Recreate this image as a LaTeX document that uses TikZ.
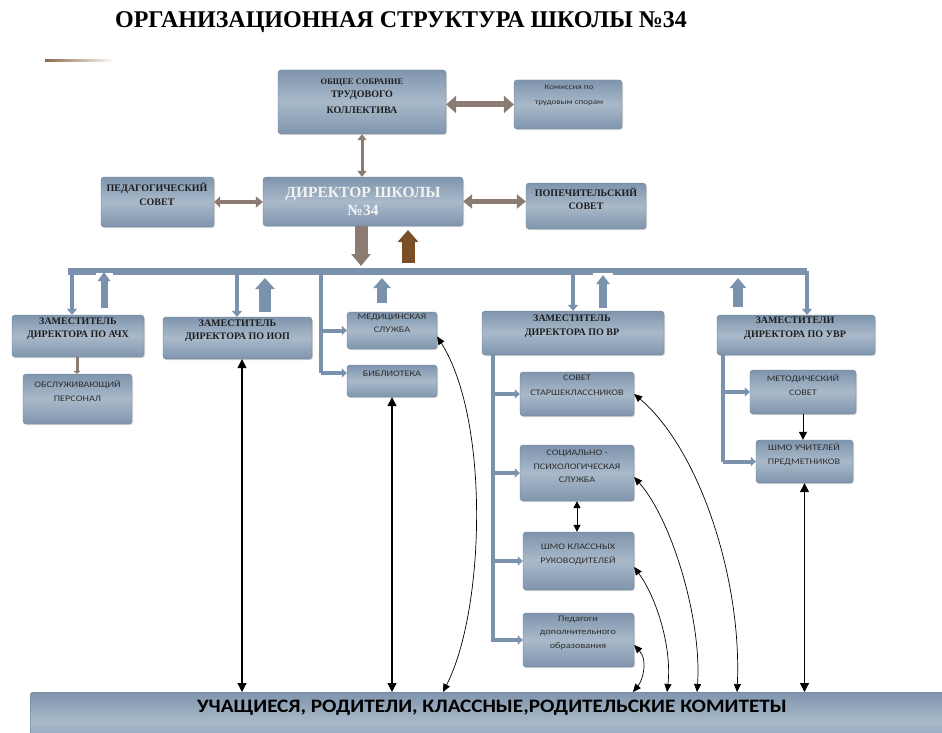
\documentclass[tikz,border=0pt]{standalone}
\usepackage{fontspec}
\setmainfont{Liberation Serif}
\newfontfamily\smf[FakeStretch=1.2]{Carlito}
\newfontfamily\btf[FakeStretch=1.12]{Carlito}
\usetikzlibrary{arrows.meta,shadows,calc}
\definecolor{bxD}{HTML}{7F95AD}
\definecolor{bxL}{HTML}{A9B9CA}
\definecolor{conn}{HTML}{7A92AD}
\definecolor{taupe}{HTML}{8C7B72}
\definecolor{brn}{HTML}{7A4E27}
\definecolor{txt}{HTML}{1E1E1E}
\definecolor{stx}{HTML}{2E2E2E}
\begin{document}
\begin{tikzpicture}[x=1pt,y=-1pt,
  bx/.style={rectangle, rounded corners=3pt, top color=bxD, bottom color=bxD, middle color=bxL,
     draw=bxD!85!black, line width=0.3pt, inner sep=0pt,
     drop shadow={shadow xshift=1pt, shadow yshift=-1.2pt, opacity=0.25, fill=black!60}},
  hd/.style={font=\fontsize{10}{13}\selectfont\bfseries, text=txt, align=center, inner sep=0pt},
  sm/.style={font=\smf\fontsize{8.5}{13.5}\selectfont, text=stx, align=center, inner sep=0pt},
  tw/.style={draw=taupe, line width=#1},
  bar/.style={draw=conn, line width=7pt},
  drop/.style={draw=conn, line width=4.5pt, -{Triangle[width=10pt,length=6pt]}},
  spine/.style={draw=conn, line width=4pt},
  branch/.style={draw=conn, line width=4pt, -{Triangle[width=9pt,length=5pt]}},
  blk/.style={draw=black, line width=1.2pt, {Triangle[width=9pt,length=9pt]}-{Triangle[width=9pt,length=9pt]}},
  crv/.style={draw=black, line width=0.7pt, {Triangle[width=7pt,length=8pt]}-{Triangle[width=7pt,length=8pt]}}
]
\useasboundingbox (0,0) rectangle (942,733);
\fill[white] (0,0) rectangle (942,733);

% title
\node[font=\fontsize{24}{28}\selectfont\bfseries, text=black, inner sep=0pt] (title) at (401,22) {ОРГАНИЗАЦИОННАЯ СТРУКТУРА ШКОЛЫ №34};
\shade[left color=brn!85, right color=white] (45,59.5) rectangle (115,62);

% boxes
\node[bx, minimum width=168pt, minimum height=64pt] (obs) at (362,102) {};
\node[bx, minimum width=108pt, minimum height=49pt] (kom) at (568,104.5) {};
\node[bx, minimum width=113pt, minimum height=50pt] (ped) at (157.5,202) {};
\node[bx, minimum width=200pt, minimum height=49pt] (dir) at (363,201.5) {};
\node[bx, minimum width=120pt, minimum height=46pt] (pop) at (586,206) {};
\node[bx, minimum width=132pt, minimum height=42pt] (ach) at (78,336) {};
\node[bx, minimum width=109pt, minimum height=50pt] (obsl) at (77.5,399) {};
\node[bx, minimum width=149pt, minimum height=42pt] (iop) at (237.5,338) {};
\node[bx, minimum width=90pt, minimum height=37pt] (med) at (392,330.5) {};
\node[bx, minimum width=90pt, minimum height=32pt] (bib) at (392,381) {};
\node[bx, minimum width=182pt, minimum height=44pt] (vr) at (573,333) {};
\node[bx, minimum width=158pt, minimum height=40pt] (uvr) at (796,335) {};
\node[bx, minimum width=114pt, minimum height=44pt] (sov) at (577,394) {};
\node[bx, minimum width=114pt, minimum height=56pt] (soc) at (577,473) {};
\node[bx, minimum width=111pt, minimum height=58pt] (shk) at (578.5,561) {};
\node[bx, minimum width=111pt, minimum height=54pt] (ped2) at (578.5,640) {};
\node[bx, minimum width=106pt, minimum height=44pt] (met) at (803,392) {};
\node[bx, minimum width=97pt, minimum height=43pt] (shu) at (804.5,461.5) {};
\node[bx, minimum width=930pt, minimum height=60pt, anchor=north west] (uch) at (30,692) {};

% texts
\node[hd] (obs-t) at (362,96) {{\fontsize{8.5}{13}\selectfont ОБЩЕЕ СОБРАНИЕ}\\ТРУДОВОГО\\[3pt]КОЛЛЕКТИВА};
\node[sm, font=\smf\fontsize{7.5}{15}\selectfont] (kom-t) at (569,95.5) {Комиссия по\\трудовым спорам};
\node[hd, font=\fontsize{10}{14}\selectfont\bfseries] (ped-t) at (157,194) {ПЕДАГОГИЧЕСКИЙ\\СОВЕТ};
\node[hd, font=\fontsize{15.5}{18}\selectfont\bfseries, text=white!95!black] (dir-t) at (363,201) {ДИРЕКТОР ШКОЛЫ\\№34};
\node[hd] (pop-t) at (586,198.5) {ПОПЕЧИТЕЛЬСКИЙ\\СОВЕТ};
\node[hd] (ach-t) at (78,328.5) {ЗАМЕСТИТЕЛЬ\\ДИРЕКТОРА ПО АЧХ};
\node[hd] (iop-t) at (237.5,330.5) {ЗАМЕСТИТЕЛЬ\\ДИРЕКТОРА ПО ИОП};
\node[sm] (med-t) at (392,323.5) {МЕДИЦИНСКАЯ\\СЛУЖБА};
\node[sm] (bib-t) at (392,374) {БИБЛИОТЕКА};
\node[sm] (obsl-t) at (77.5,391) {ОБСЛУЖИВАЮЩИЙ\\ПЕРСОНАЛ};
\node[hd, font=\fontsize{10}{14}\selectfont\bfseries] (vr-t) at (572,326) {ЗАМЕСТИТЕЛЬ\\ДИРЕКТОРА ПО ВР};
\node[hd, font=\fontsize{10}{14}\selectfont\bfseries] (uvr-t) at (795,328) {ЗАМЕСТИТЕЛИ\\ДИРЕКТОРА ПО УВР};
\node[sm, font=\smf\fontsize{8.5}{15}\selectfont] (sov-t) at (577,385.5) {СОВЕТ\\СТАРШЕКЛАССНИКОВ};
\node[sm] (soc-t) at (577,466.5) {СОЦИАЛЬНО -\\ПСИХОЛОГИЧЕСКАЯ\\СЛУЖБА};
\node[sm] (met-t) at (803,385) {МЕТОДИЧЕСКИЙ\\СОВЕТ};
\node[sm] (shu-t) at (804,454.5) {ШМО УЧИТЕЛЕЙ\\ПРЕДМЕТНИКОВ};
\node[sm] (shk-t) at (578,554.5) {ШМО КЛАССНЫХ\\РУКОВОДИТЕЛЕЙ};
\node[sm, font=\smf\fontsize{8.5}{13.5}\selectfont] (ped2-t) at (578,632.5) {Педагоги\\дополнительного\\образования};
\node[font=\btf\bfseries\fontsize{19}{22}\selectfont, text=black, inner sep=0pt] (uch-t) at (492,708) {УЧАЩИЕСЯ, РОДИТЕЛИ, КЛАССНЫЕ,РОДИТЕЛЬСКИЕ КОМИТЕТЫ};

% taupe connectors at top
\draw[tw=6pt, {Triangle[width=17pt,length=10pt]}-{Triangle[width=17pt,length=10pt]}] (obs.east |- kom.west) -- (kom.west);
\draw[tw=3pt, {Triangle[width=9pt,length=6pt]}-{Triangle[width=9pt,length=6pt]}] (obs.south) -- (obs.south |- dir.north);
\draw[tw=4pt, {Triangle[width=11pt,length=6pt]}-{Triangle[width=11pt,length=7pt]}] (ped.east) -- (ped.east -| dir.west);
\draw[tw=5pt, {Triangle[width=14pt,length=9pt]}-{Triangle[width=14pt,length=9pt]}] (dir.east) -- (dir.east -| pop.west);

% main bar
\coordinate (bL) at (68,271);
\coordinate (bR) at (807,271);
\coordinate (d1) at (72,271);
\coordinate (d2) at (237,271);
\coordinate (d3) at (321,271);
\coordinate (d4) at (573,271);
\draw[bar] (bL) -- (bR);
\draw[tw=13pt, -{Triangle[width=19pt,length=12pt]}] (dir.south -| 361,0) -- (361,266);

% white patches
\fill[white] (96,272.5) rectangle (113,276);
\fill[white] (593,272.5) rectangle (613,276);
\fill[white] (396,262) rectangle (421,267.5);

% drops
\draw[drop] (d1) -- (d1 |- ach.north);
\draw[drop] (d2) -- (d2 |- iop.north);
\draw[drop] (d4) -- (d4 |- vr.north);
\draw[drop] (bR) -- (bR |- uvr.north);
\coordinate (s3) at (321,373);
\draw[spine] (d3) -- (s3);
\draw[branch] (321,330.5) -- (med.west);
\draw[branch] (s3) -- (s3 -| bib.west);

% up arrows
\draw[draw=brn, line width=13pt, -{Triangle[width=20pt,length=12pt]}] (408,263) -- (408,230);
\draw[draw=conn, line width=7pt, -{Triangle[width=12pt,length=9pt]}] (104,308) -- (104,272);
\draw[draw=conn, line width=12pt, -{Triangle[width=19pt,length=11pt]}] (265,312) -- (265,278);
\draw[draw=conn, line width=10pt, -{Triangle[width=17pt,length=10pt]}] (382,303) -- (382,278);
\draw[draw=conn, line width=8pt, -{Triangle[width=13pt,length=9pt]}] (603,308) -- (603,275);
\draw[draw=conn, line width=10pt, -{Triangle[width=16pt,length=10pt]}] (738,307) -- (738,278);

% ach -> obsl
\draw[tw=3pt, -{Triangle[width=7pt,length=3pt]}] (ach.south -| 77,0) -- (77,0 |- obsl.north);

% VR spine
\coordinate (vs) at (493,0);
\draw[spine] (vs |- vr.south) -- (493,642);
\draw[branch] (vs |- sov.west) -- (sov.west);
\draw[branch] (vs |- soc.west) -- (soc.west);
\draw[branch] (vs |- shk.west) -- (shk.west);
\draw[branch] (vs |- ped2.west) -- (ped2.west);

% UVR spine
\coordinate (us) at (723,0);
\draw[spine] (us |- uvr.south) -- (us |- shu.west);
\draw[branch] (us |- met.west) -- (met.west);
\draw[branch] (us |- shu.west) -- (shu.west);

% black straight arrows
\coordinate (k1) at (242,0);
\draw[blk] (k1 |- iop.south) -- (k1 |- uch.north);
\draw[blk] (bib.south) -- (bib.south |- uch.north);
\draw[blk] (shu.south) -- (shu.south |- uch.north);
\draw[draw=black, line width=1pt, -{Triangle[width=8pt,length=8pt]}] (met.south) -- (met.south |- shu.north);
\draw[draw=black, line width=1pt, {Triangle[width=7pt,length=7pt]}-{Triangle[width=7pt,length=7pt]}] (soc.south) -- (soc.south |- shk.north);

% curved arrows
\draw[crv] ($(med.east)+(0,6)$) .. controls (490,420) and (485,610) .. (443,692);
\draw[crv] (sov.east) .. controls (700,450) and (742,580) .. (737,692);
\draw[crv] ($(soc.east)+(0,4)$) .. controls (672,520) and (702,620) .. (697,692);
\draw[crv] ($(shk.east)+(0,6)$) .. controls (658,600) and (672,650) .. (667,692);
\draw[crv] ($(ped2.east)+(0,5)$) .. controls (648,660) and (643,680) .. (633,692);
\end{tikzpicture}
\end{document}
